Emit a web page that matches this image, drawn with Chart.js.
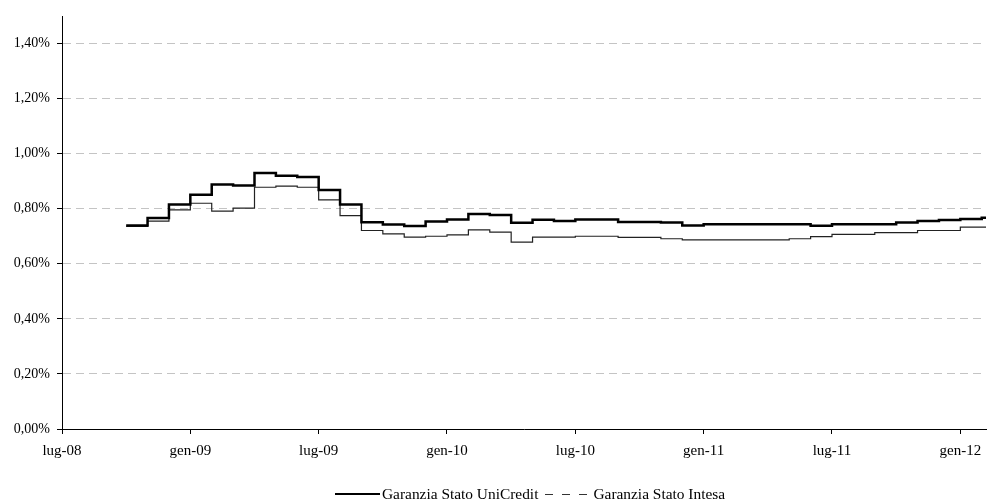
<!DOCTYPE html>
<html>
<head>
<meta charset="utf-8">
<script src="https://cdn.jsdelivr.net/npm/chart.js@4"></script>
<style>
  html, body { margin: 0; padding: 0; background: #fff; }
  #wrap { position: relative; width: 987px; height: 501px; overflow: hidden; }
  #legend { position: absolute; left: 335px; top: 484px; font: 15.4px "Liberation Serif", serif; color: #000; white-space: nowrap; }
  #legend span { display: inline-block; vertical-align: middle; }
  .solid { width: 45px; border-top: 2.5px solid #000; margin-right: 2px; }
  .dash { width: 42px; margin: 0 6px 0 7px; height: 1.2px;
          background: repeating-linear-gradient(90deg, #333 0 8px, transparent 8px 17px); }
</style>
</head>
<body>
<div id="wrap">
  <canvas id="chart" width="987" height="501"></canvas>
  <div id="legend"><span class="solid"></span><span>Garanzia Stato UniCredit</span><span class="dash"></span><span>Garanzia Stato Intesa</span></div>
</div>
<script>
"use strict";

// ========== DATA ========== //
// months counted from lug-08 (0 = luglio 2008)
const _months = [3, 4, 5, 6, 7, 8, 9, 10, 11, 12, 13, 14, 15, 16, 17, 18, 19, 20, 21, 22, 23,
  24, 25, 26, 27, 28, 29, 30, 31, 32, 33, 34, 35, 36, 37, 38, 39, 40, 41, 42, 43, 44];

// values in %
const _uniCredit = [0.739, 0.766, 0.815, 0.851, 0.888, 0.884, 0.930, 0.920, 0.915, 0.868,
  0.815, 0.751, 0.743, 0.737, 0.754, 0.761, 0.781, 0.777, 0.749, 0.760, 0.755,
  0.761, 0.761, 0.752, 0.752, 0.750, 0.739, 0.744, 0.744, 0.744, 0.744, 0.744, 0.738,
  0.744, 0.744, 0.744, 0.750, 0.755, 0.759, 0.763, 0.767, 0.767];

const _intesa = [0.736, 0.755, 0.796, 0.820, 0.791, 0.802, 0.878, 0.882, 0.878, 0.832,
  0.775, 0.721, 0.709, 0.697, 0.700, 0.705, 0.723, 0.715, 0.679, 0.697, 0.697,
  0.700, 0.700, 0.696, 0.696, 0.691, 0.687, 0.687, 0.687, 0.687, 0.687, 0.691, 0.699,
  0.707, 0.707, 0.713, 0.713, 0.721, 0.721, 0.733, 0.733, 0.733];

// x tick labels, one every 6 months
const _xTicks = [0, 6, 12, 18, 24, 30, 36, 42];
const _xLabels = ["lug-08", "gen-09", "lug-09", "gen-10", "lug-10", "gen-11", "lug-11", "gen-12"];

const _yTicks = [0, 0.2, 0.4, 0.6, 0.8, 1.0, 1.2, 1.4];

// build points
function toPoints(values) {
  return values.map((v, i) => ({ x: _months[i], y: v }));
}

const _serif = "'Liberation Serif', 'Times New Roman', serif";

let chart = new Chart(document.querySelector('#chart'), {
  type: 'line',
  data: {
    datasets: [
      {
        label: 'Garanzia Stato UniCredit',
        data: toPoints(_uniCredit),
        stepped: true,
        borderColor: '#000',
        borderWidth: 2.5,
        pointRadius: 0,
        fill: false
      },
      {
        label: 'Garanzia Stato Intesa',
        data: toPoints(_intesa),
        stepped: true,
        borderColor: '#222',
        borderWidth: 1.2,
        pointRadius: 0,
        fill: false
      }
    ]
  },
  options: {
    responsive: false,
    animation: false,
    layout: { padding: { top: 16, right: 1, left: 0, bottom: 0 } },
    plugins: {
      legend: { display: false },
      tooltip: { enabled: false }
    },
    scales: {
      x: {
        type: 'linear',
        min: 0,
        max: 43.2,
        afterBuildTicks: scale => { scale.ticks = _xTicks.map(v => ({ value: v })); },
        afterFit: scale => {
          scale.height = 72;
          scale.paddingRight = 0; // let the axis run to the right edge like the original
          scale.paddingLeft = 0;
        },
        ticks: {
          autoSkip: false,
          maxRotation: 0,
          padding: 8,
          color: '#000',
          font: { family: _serif, size: 15 },
          callback: v => _xLabels[_xTicks.indexOf(v)]
        },
        grid: { drawOnChartArea: false, drawTicks: true, tickLength: 5, tickColor: '#000' },
        border: { display: true, color: '#000', width: 1 }
      },
      y: {
        min: 0,
        max: 1.5,
        afterBuildTicks: scale => { scale.ticks = _yTicks.map(v => ({ value: v })); },
        afterFit: scale => { scale.width = 62; },
        ticks: {
          padding: 7,
          color: '#000',
          font: { family: _serif, size: 14 },
          callback: v => v.toFixed(2).replace('.', ',') + '%'
        },
        grid: {
          color: '#c4c4c4',
          tickLength: 5,
          tickColor: '#000',
          tickBorderDash: [],
          lineWidth: 1
        },
        border: { display: true, color: '#000', width: 1, dash: [8, 5] }
      }
    }
  }
});
</script>
</body>
</html>
